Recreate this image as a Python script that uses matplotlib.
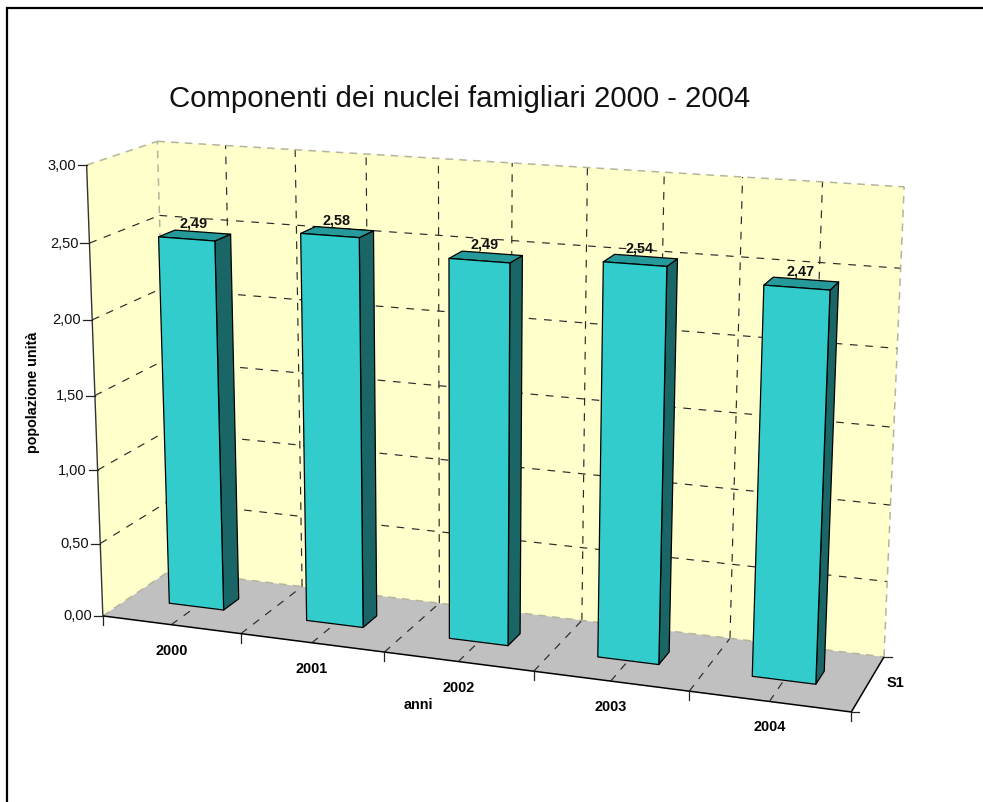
import numpy as np
import matplotlib
matplotlib.use("Agg")
import matplotlib.pyplot as plt

plt.rcParams['font.family'] = ['Liberation Sans', 'DejaVu Sans']

years = ['2000', '2001', '2002', '2003', '2004']
values = [2.49, 2.58, 2.49, 2.54, 2.47]
value_labels = ['2,49', '2,58', '2,49', '2,54', '2,47']
y_ticks = [0.0, 0.5, 1.0, 1.5, 2.0, 2.5, 3.0]
y_tick_labels = ['0,00', '0,50', '1,00', '1,50', '2,00', '2,50', '3,00']
series_name = 'S1'

# camera: where some corners of the box land on the picture, (x, depth, z) -> pixel
calib = [
    ((0, 0, 0), (103, 616)), ((0, 0, 3), (86, 165)), ((0, 0, 2.5), (89, 243)),
    ((0, 0, 2), (92, 320)), ((0, 0, 1), (98, 470)),
    ((1, 0, 0), (241.5, 633)), ((2, 0, 0), (385, 653)), ((4, 0, 0), (689, 691)),
    ((5, 0, 0), (851, 712)),
    ((0, 1, 3), (158, 142)), ((0, 1, 0), (168, 570)),
    ((1, 1, 3), (296, 150)), ((2, 1, 3), (439, 158)), ((3, 1, 3), (586, 167)),
    ((4, 1, 3), (742, 177)), ((5, 1, 3), (905, 187)),
    ((5, 1, 0), (884, 657)), ((1, 1, 0), (303, 587)),
]


def fit_camera(points):
    rows = []
    for (x, d, z), (u, v) in points:
        rows.append([x, d, z, 1, 0, 0, 0, 0, -u * x, -u * d, -u * z, -u])
        rows.append([0, 0, 0, 0, x, d, z, 1, -v * x, -v * d, -v * z, -v])
    return np.linalg.svd(np.array(rows, dtype=float))[2][-1].reshape(3, 4)


cam = fit_camera(calib)


def proj(x, d, z):
    p = cam @ np.array([x, d, z, 1.0])
    return p[0] / p[2], p[1] / p[2]


def poly(ax, corners, color, edge='none', lw=0.0, zorder=1):
    xy = [proj(*c) for c in corners]
    ax.fill([p[0] for p in xy], [p[1] for p in xy], facecolor=color,
            edgecolor=edge, linewidth=lw, joinstyle='round', zorder=zorder)


def seg(ax, a, b, color='black', lw=1.0, ls='-', zorder=2):
    pa, pb = proj(*a), proj(*b)
    ax.plot([pa[0], pb[0]], [pa[1], pb[1]], color=color, lw=lw, ls=ls,
            zorder=zorder, solid_capstyle='butt')


fig = plt.figure(figsize=(9.83, 8.02), dpi=100)
ax = fig.add_axes([0, 0, 1, 1])
ax.set_xlim(0, 983)
ax.set_ylim(802, 0)
ax.axis('off')

# outer frame, only top and left show
ax.plot([7, 7, 983], [802, 8, 8], color='black', lw=1.6, solid_joinstyle='miter')

nx = len(years)
top = y_ticks[-1]
wall = '#ffffcc'
dash = (0, (6.5, 6.5))
grid_col = '#2a2a2a'
grid_lw = 0.85

poly(ax, [(0, 0, 0), (0, 0, top), (0, 1, top), (0, 1, 0)], wall)
poly(ax, [(0, 1, 0), (0, 1, top), (nx, 1, top), (nx, 1, 0)], wall)
poly(ax, [(0, 0, 0), (nx, 0, 0), (nx, 1, 0), (0, 1, 0)], '#c0c0c0')

# grid
for z in y_ticks[1:-1]:
    seg(ax, (0, 0, z), (0, 1, z), ls=dash, color=grid_col, lw=grid_lw)
    seg(ax, (0, 1, z), (nx, 1, z), ls=dash, color=grid_col, lw=grid_lw)
for x in np.arange(0.5, nx, 0.5):
    seg(ax, (x, 1, 0), (x, 1, top), ls=dash, color=grid_col, lw=grid_lw)
    seg(ax, (x, 0, 0), (x, 1, 0), ls=dash, color=grid_col, lw=grid_lw)

# wall borders are paler
edge_col = '#b4b49a'
for a, b in [((0, 0, top), (0, 1, top)), ((0, 1, top), (nx, 1, top)),
             ((nx, 1, 0), (nx, 1, top)), ((0, 1, 0), (0, 1, top)),
             ((0, 1, 0), (nx, 1, 0)), ((0, 0, 0), (0, 1, 0))]:
    seg(ax, a, b, ls=(0, (5, 4)), color=edge_col, lw=1.1)

# axis lines
seg(ax, (0, 0, 0), (0, 0, top), color='#333333', lw=1.0, zorder=3)
seg(ax, (0, 0, 0), (nx, 0, 0), lw=1.1, zorder=3)
seg(ax, (nx, 0, 0), (nx, 1, 0), lw=1.1, zorder=3)

# ticks and labels
for z, lab in zip(y_ticks, y_tick_labels):
    px, py = proj(0, 0, z)
    ax.plot([px - 9, px], [py, py], color='#222222', lw=0.9, zorder=3)
    ax.text(px - 11, py + 0.5, lab, ha='right', va='center', fontsize=10.5, color='#111111')

for i in range(nx + 1):
    px, py = proj(i, 0, 0)
    ax.plot([px, px], [py, py + 9], color='#222222', lw=0.9, zorder=3)

for d in (0, 1):
    px, py = proj(nx, d, 0)
    ax.plot([px, px + 8], [py, py], color='#222222', lw=0.9, zorder=3)

for i, lab in enumerate(years):
    px, py = proj(i + 0.5, 0, 0)
    ax.text(px, py + 26, lab, ha='center', va='center', fontsize=10.4, fontweight='bold')

# bars, left to right
x_half = 0.2
d0, d1 = 0.38, 0.62
for i, v in enumerate(values):
    x0, x1 = i + 0.5 - x_half, i + 0.5 + x_half
    kw = dict(edge='black', lw=0.9, zorder=5)
    poly(ax, [(x1, d0, 0), (x1, d1, 0), (x1, d1, v), (x1, d0, v)], '#1a6666', **kw)
    poly(ax, [(x0, d0, v), (x1, d0, v), (x1, d1, v), (x0, d1, v)], '#269a9a', **kw)
    poly(ax, [(x0, d0, 0), (x1, d0, 0), (x1, d0, v), (x0, d0, v)], '#33cccc', **kw)
    px, py = proj(i + 0.5, 0.5, v)
    ax.text(px - 1, py - 12, value_labels[i], ha='center', va='center',
            fontsize=10.4, fontweight='bold', color='#111111', zorder=6)

# titles
ax.text(460, 99, 'Componenti dei nuclei famigliari 2000 - 2004', ha='center', va='center',
        fontsize=21.2, color='#111111')
ax.text(33, 392, 'popolazione unità', rotation=90, ha='center', va='center',
        fontsize=10.3, fontweight='bold')
ax.text(418, 705, 'anni', ha='center', va='center', fontsize=10.3, fontweight='bold')
ax.text(895, 683, series_name, ha='center', va='center', fontsize=10.5, fontweight='bold')

fig.savefig('out.png', dpi=100)
